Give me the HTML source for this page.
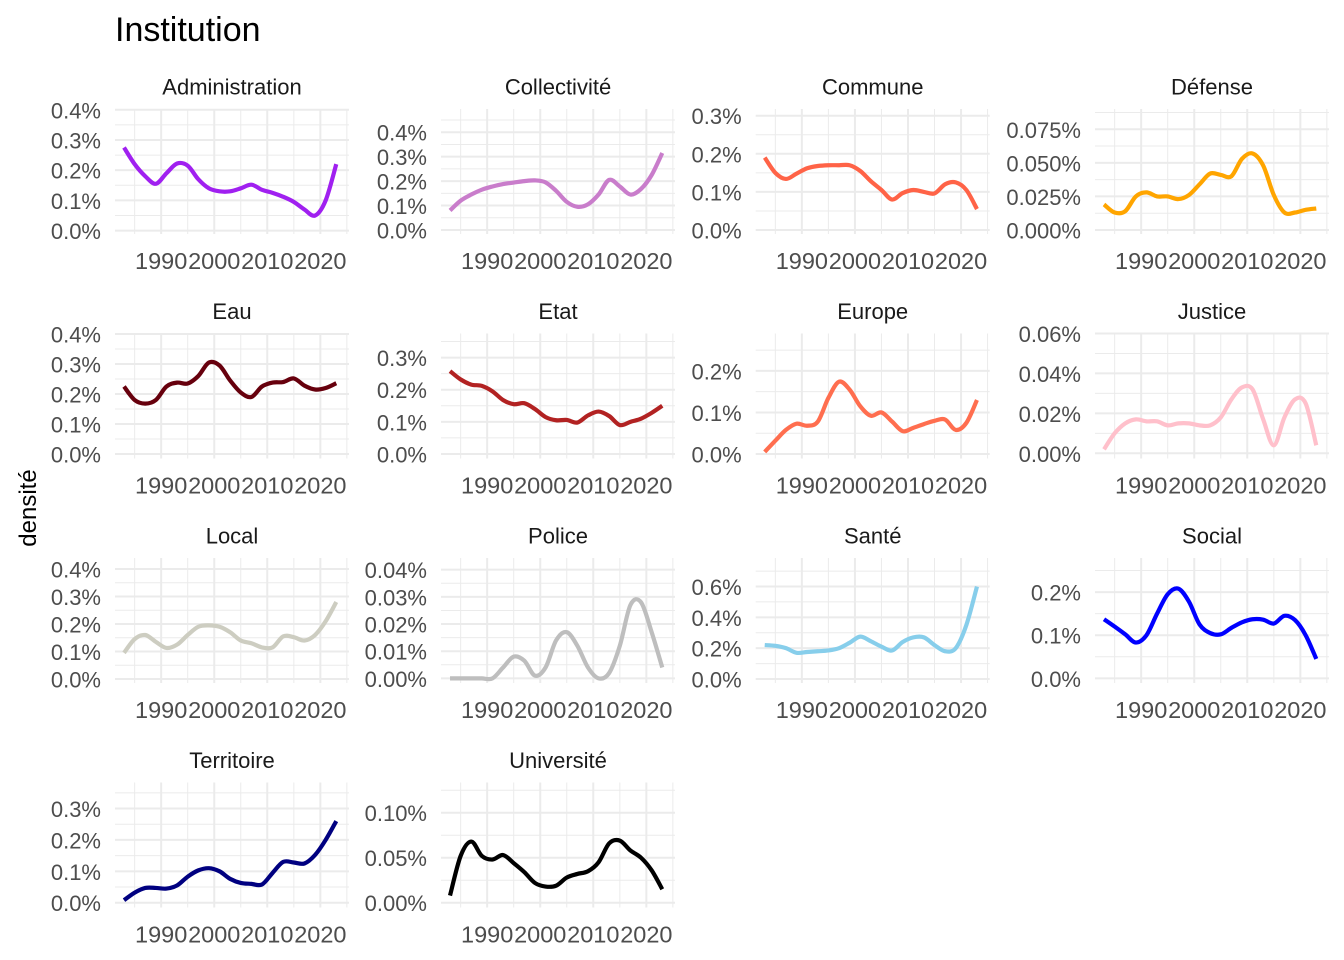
<!DOCTYPE html>
<html><head><meta charset="utf-8"><title>Institution</title>
<style>
html,body{margin:0;padding:0;background:#fff;}
svg{display:block;font-family:"Liberation Sans",Arial,sans-serif;}
</style></head>
<body>
<svg id="chart" width="1344" height="960" viewBox="0 0 1344 960" xmlns="http://www.w3.org/2000/svg">
<text x="115" y="41" font-size="34" fill="#000">Institution</text>
<text transform="translate(36,508) rotate(-90)" text-anchor="middle" font-size="24" fill="#000">densité</text>
</svg>
<script>
const years = [1983,1985,1987,1989,1991,1993,1995,1997,1999,2001,2003,2005,2007,2009,2011,2013,2015,2017,2019,2021,2023];
const facetNames = ["Administration","Collectivité","Commune","Défense","Eau","Etat","Europe","Justice","Local","Police","Santé","Social","Territoire","Université"];
const facetColors = ["#a020f0","#c97dcb","#ff6347","#ffa500","#67000d","#b22222","#ff6e4f","#ffc0cb","#cdcdc1","#bebebe","#87ceeb","#0000ff","#000080","#000000"];
const administration = [.275,.22,.18,.155,.19,.222,.215,.17,.14,.13,.13,.14,.152,.135,.125,.112,.095,.07,.05,.1,.22];
const collectivite = [.08,.12,.145,.165,.178,.188,.194,.2,.203,.195,.16,.115,.095,.105,.145,.205,.178,.145,.168,.225,.315];
const commune = [.19,.15,.134,.148,.162,.168,.17,.17,.17,.155,.128,.105,.08,.097,.105,.1,.096,.12,.125,.105,.055];
const defense = [.019,.013,.014,.025,.028,.025,.025,.023,.026,.034,.042,.041,.04,.053,.057,.048,.026,.013,.013,.015,.016];
const eau = [.225,.18,.168,.18,.225,.238,.235,.26,.305,.295,.245,.205,.19,.225,.238,.24,.252,.228,.215,.22,.236];
const etat = [.258,.232,.216,.212,.195,.168,.155,.158,.14,.115,.105,.106,.098,.12,.132,.118,.09,.1,.11,.128,.15];
const europe = [.005,.032,.058,.073,.068,.078,.135,.174,.155,.115,.092,.1,.078,.055,.063,.072,.08,.083,.058,.075,.13];
const justice = [.002,.01,.015,.017,.016,.016,.014,.015,.015,.014,.014,.018,.027,.033,.032,.017,.004,.018,.027,.025,.004];
const local = [.095,.145,.16,.135,.113,.125,.16,.19,.195,.19,.17,.14,.13,.115,.115,.155,.152,.14,.16,.21,.28];
const police = [0,0,0,0,0,.004,.008,.0065,.001,.004,.014,.017,.012,.004,0,.002,.012,.027,.028,.017,.004];
const sante = [.22,.215,.2,.17,.175,.18,.185,.2,.235,.275,.245,.21,.185,.24,.27,.27,.22,.18,.2,.35,.6];
const social = [.137,.12,.102,.083,.1,.15,.195,.208,.178,.125,.105,.102,.117,.13,.137,.136,.127,.145,.135,.1,.045];
const territoire = [.008,.032,.047,.047,.045,.055,.083,.103,.11,.1,.076,.063,.06,.058,.095,.13,.128,.125,.152,.2,.26];
const universite = [.008,.052,.068,.052,.048,.053,.044,.034,.022,.018,.019,.028,.032,.035,.045,.066,.069,.058,.05,.036,.015];
const seriesValues = [administration,collectivite,commune,defense,eau,etat,europe,justice,local,police,sante,social,territoire,universite];
const xTickLabels = [1990,2000,2010,2020];
const yTicks = [[0,.1,.2,.3,.4],[0,.1,.2,.3,.4],[0,.1,.2,.3],[0,.025,.05,.075],[0,.1,.2,.3,.4],[0,.1,.2,.3],[0,.1,.2],[0,.02,.04,.06],[0,.1,.2,.3,.4],[0,.01,.02,.03,.04],[0,.2,.4,.6],[0,.1,.2],[0,.1,.2,.3],[0,.05,.1]];
const yDigits = [1,1,1,3,1,1,1,2,1,2,1,1,1,2];
const yDomains = [[-0.0112,0.4025],[-0.0164,0.495],[-0.0105,0.3176],[-0.003,0.0901],[-0.015,0.4017],[-0.014,0.375],[-0.0108,0.29],[-0.0026,0.06],[-0.0145,0.44],[-0.0017,0.0443],[-0.026,0.785],[-0.0108,0.279],[-0.0153,0.383],[-0.0053,0.1336]];

const NS="http://www.w3.org/2000/svg";
const svg=document.getElementById('chart');
const colLeft=[115,441,755.7,1095], rowTop=[109,333.5,558,782.5], PW=234, PH=125;
const xDom=[1981.3,2025.4];
function mk(tag,attrs,parent){const e=document.createElementNS(NS,tag);for(const k in attrs)e.setAttribute(k,attrs[k]);(parent||svg).appendChild(e);return e;}
function smoothPath(pts){
  let d="M"+pts[0][0].toFixed(2)+","+pts[0][1].toFixed(2);
  for(let i=0;i<pts.length-1;i++){
    const p0=pts[Math.max(0,i-1)],p1=pts[i],p2=pts[i+1],p3=pts[Math.min(pts.length-1,i+2)];
    const c1=[p1[0]+(p2[0]-p0[0])/6,p1[1]+(p2[1]-p0[1])/6];
    const c2=[p2[0]-(p3[0]-p1[0])/6,p2[1]-(p3[1]-p1[1])/6];
    d+="C"+c1[0].toFixed(2)+","+c1[1].toFixed(2)+" "+c2[0].toFixed(2)+","+c2[1].toFixed(2)+" "+p2[0].toFixed(2)+","+p2[1].toFixed(2);
  }
  return d;
}
facetNames.forEach((name,i)=>{
  const L=colLeft[i%4], T=rowTop[Math.floor(i/4)], R=L+PW, B=T+PH;
  const xs=yr=>L+(yr-xDom[0])/(xDom[1]-xDom[0])*PW;
  const dom=yDomains[i];
  const ys=v=>B-(v-dom[0])/(dom[1]-dom[0])*PH;
  const g=mk('g',{});
  
  
  const t=yTicks[i], step=t[1]-t[0];
  for(let k=-1;k<t.length+1;k++){
    const v=t[0]+step*(k+0.5), y=ys(v);
    if(y>=T&&y<=B){const l=mk('line',{x1:L,x2:R,y1:y,y2:y,stroke:'#ebebeb','stroke-width':1},g);
      
      }
  }
  for(let yr=1980;yr<=2030;yr+=10){const x=xs(yr+5);
    if(x>=L&&x<=R){const l=mk('line',{x1:x,x2:x,y1:T,y2:B,stroke:'#ebebeb','stroke-width':1},g);
      
      }
  }
  t.forEach(v=>{const y=ys(v);
    const l=mk('line',{x1:L,x2:R,y1:y,y2:y,stroke:'#ebebeb','stroke-width':2},g);
    
    
    const tx=mk('text',{x:L-14,y:y+1,'text-anchor':'end','dominant-baseline':'central','font-size':22,fill:'#4d4d4d'},g);
    tx.textContent=v.toFixed(yDigits[i])+'%';
    
    
  });
  xTickLabels.forEach(yr=>{const x=xs(yr);
    const l=mk('line',{x1:x,x2:x,y1:T,y2:B,stroke:'#ebebeb','stroke-width':2},g);
    
    
    const tx=mk('text',{x:x,y:B+27,'text-anchor':'middle','dominant-baseline':'central','font-size':23.5,fill:'#4d4d4d'},g);
    tx.textContent=String(yr);
    
    
  });
  const st=mk('text',{x:L+PW/2,y:T-22,'text-anchor':'middle','dominant-baseline':'central','font-size':22,fill:'#1a1a1a'},g);
  st.textContent=name;
  
  
  const pts=years.map((yr,j)=>[xs(yr),ys(seriesValues[i][j])]);
  const p=mk('path',{d:smoothPath(pts),fill:'none',stroke:facetColors[i],'stroke-width':4.2,'stroke-linejoin':'round'},g);
  
  
});
</script>
</body></html>
